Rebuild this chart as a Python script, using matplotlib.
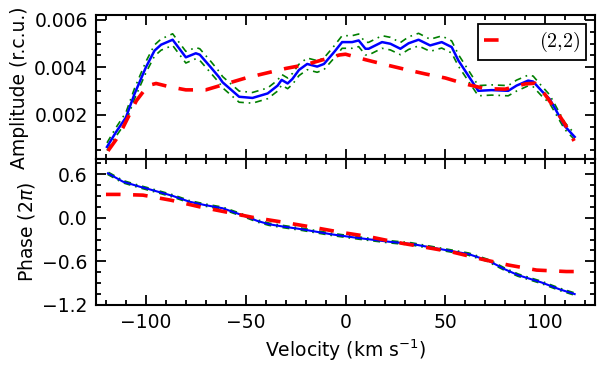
import numpy as np
import matplotlib
matplotlib.use('Agg')
from matplotlib import pyplot as plt
from matplotlib.ticker import MultipleLocator
from matplotlib.font_manager import FontProperties

# blue solid line, amplitude (velocity in km/s)
amp_vel = [-119.5, -115, -110, -105.7, -100, -95.7, -92.4, -86.6, -80, -75,
           -73, -67.5, -63.3, -61.6, -53.3, -46.6, -39, -34, -32, -29,
           -26.6, -23.3, -19.2, -14.2, -10.8, -5.8, -1.7, 3.3, 6.6, 10,
           11.6, 18.3, 22.5, 27.5, 31.6, 36.6, 42.4, 48.2, 53.2, 56.6,
           66.5, 73.2, 81.5, 85.7, 91.5, 94, 98.2, 102.3, 105.6, 109.8,
           114.8]
amp = [0.00065, 0.00127, 0.00189, 0.00288, 0.00400, 0.00470, 0.00495, 0.00516, 0.00442, 0.00459,
       0.00453, 0.00400, 0.00358, 0.00337, 0.00276, 0.00271, 0.00290, 0.00323, 0.00347, 0.00332,
       0.00351, 0.00389, 0.00414, 0.00403, 0.00414, 0.00463, 0.00506, 0.00506, 0.00513, 0.00478,
       0.00478, 0.00506, 0.00499, 0.00478, 0.00501, 0.00516, 0.00492, 0.00506, 0.00485, 0.00428,
       0.00301, 0.00304, 0.00301, 0.00323, 0.00344, 0.00340, 0.00301, 0.00266, 0.00217, 0.00153,
       0.00107]
# green dash-dot error envelope
amp_hi = [0.00082, 0.00146, 0.00210, 0.00311, 0.00424, 0.00494, 0.00519, 0.00541, 0.00467, 0.00483,
          0.00478, 0.00425, 0.00382, 0.00361, 0.00300, 0.00294, 0.00313, 0.00346, 0.00370, 0.00355,
          0.00374, 0.00413, 0.00439, 0.00428, 0.00439, 0.00489, 0.00533, 0.00533, 0.00540, 0.00505,
          0.00505, 0.00533, 0.00526, 0.00504, 0.00528, 0.00543, 0.00518, 0.00532, 0.00511, 0.00453,
          0.00323, 0.00326, 0.00323, 0.00346, 0.00367, 0.00363, 0.00322, 0.00284, 0.00233, 0.00168,
          0.00120]
amp_lo = [0.00050, 0.00109, 0.00170, 0.00267, 0.00377, 0.00447, 0.00472, 0.00492, 0.00418, 0.00436,
          0.00429, 0.00376, 0.00335, 0.00314, 0.00253, 0.00249, 0.00268, 0.00300, 0.00325, 0.00310,
          0.00328, 0.00365, 0.00390, 0.00379, 0.00390, 0.00438, 0.00480, 0.00480, 0.00487, 0.00452,
          0.00452, 0.00480, 0.00473, 0.00453, 0.00475, 0.00490, 0.00467, 0.00481, 0.00460, 0.00404,
          0.00280, 0.00283, 0.00280, 0.00300, 0.00322, 0.00318, 0.00280, 0.00248, 0.00200, 0.00139,
          0.00095]

# red dashed (2,2) model, amplitude
mod_vel = [-119, -115, -111.5, -104.8, -99, -94.9, -88.2, -80, -70, -60,
           -50, -40, -30, -20, -10, -3, 0, 10, 20, 30,
           40, 50, 60, 70, 80, 90, 95, 100, 105, 110,
           114.5]
mod_amp = [0.00048, 0.00095, 0.00146, 0.00259, 0.00323, 0.00332, 0.00318, 0.00305, 0.00305, 0.00330,
           0.00355, 0.00375, 0.00395, 0.00411, 0.00435, 0.00452, 0.00455, 0.00432, 0.00411, 0.00391,
           0.00372, 0.00355, 0.00330, 0.00310, 0.00308, 0.00330, 0.00333, 0.00285, 0.00225, 0.00160,
           0.00090]

# phase (units of 2 pi)
ph_vel = [-119, -111.5, -103.2, -98.2, -86.6, -78.2, -70.7, -61.6, -53.3, -48.3,
          -44.1, -38.3, -31.7, -21.7, -6.7, 6.6, 21.6, 33, 48.2, 61.6,
          71.5, 79.9, 86.5, 98.2, 107.3, 114.8]
phase = [0.61, 0.495, 0.427, 0.39, 0.30, 0.22, 0.175, 0.13, 0.05, 0.0,
         -0.045, -0.09, -0.12, -0.16, -0.23, -0.28, -0.33, -0.36, -0.435, -0.50,
         -0.59, -0.71, -0.79, -0.89, -0.985, -1.05]

mph_vel = [-120, -113, -101.5, -87.4, -73.2, -59.1, -46.6, -31.7, -16.7, -2.5,
           11.6, 25.8, 36.6, 53.2, 68.2, 81.5, 95.7, 110.6, 115]
mod_phase = [0.32, 0.32, 0.31, 0.24, 0.15, 0.074, 0.005, -0.06, -0.13, -0.20,
             -0.26, -0.34, -0.39, -0.47, -0.57, -0.65, -0.72, -0.74, -0.74]

plt.rcParams['font.size'] = 13.5
plt.rcParams['lines.scale_dashes'] = False
plt.rcParams['axes.linewidth'] = 1.5

fig = plt.figure(figsize=(6, 3.68), dpi=100)
ax1 = fig.add_axes([0.16, 0.5666, 0.8317, 0.3926])
ax2 = fig.add_axes([0.16, 0.1712, 0.8317, 0.3954], sharex=ax1)

green_dash = (5, 3.5, 1.2, 3.5)
red_dash = (10.5, 9)

ax1.plot(amp_vel, amp_hi, color='#007f00', lw=1.2, dashes=green_dash)
ax1.plot(amp_vel, amp_lo, color='#007f00', lw=1.2, dashes=green_dash)
ax1.plot(amp_vel, amp, color='#0000ff', lw=1.8)
ax1.plot(mod_vel, mod_amp, color='#ff0000', lw=2.6, dashes=red_dash, label=r'$\mathrm{(2{,}2)}$')

ax2.plot(ph_vel, phase, color='#008000', lw=2.8, dashes=green_dash)
ax2.plot(ph_vel, phase, color='#0000ff', lw=1.5)
ax2.plot(mph_vel, mod_phase, color='#ff0000', lw=2.6, dashes=red_dash)

ax1.set_xlim(-125, 125)
ax1.set_ylim(0.00012, 0.0062)
ax2.set_ylim(-1.2, 0.8)

ax1.set_yticks([0.002, 0.004, 0.006])
ax1.yaxis.set_minor_locator(MultipleLocator(0.0005))
ax2.set_yticks([-1.2, -0.6, 0.0, 0.6])
ax2.yaxis.set_minor_locator(MultipleLocator(0.15))
ax2.set_xticks([-100, -50, 0, 50, 100])
ax2.xaxis.set_minor_locator(MultipleLocator(10))

for ax in (ax1, ax2):
    ax.tick_params(which='both', direction='in', top=True, right=True, width=1.3)
    ax.tick_params(which='major', length=7, pad=6)
    ax.tick_params(which='minor', length=3.5)
ax1.tick_params(labelbottom=False)

ax1.set_ylabel('Amplitude (r.c.u.)')
ax2.set_ylabel(r'Phase ($2\pi$)')
ax2.set_xlabel(r'Velocity (km s$^{-1}$)')

leg = ax1.legend(loc='upper right', prop=FontProperties(size=14.5, math_fontfamily='cm'),
                 handlelength=1.2, handletextpad=1.5, borderpad=0.3, borderaxespad=0.45,
                 fancybox=False, framealpha=1)
leg.get_frame().set_edgecolor('black')
leg.get_frame().set_linewidth(1.3)

fig.savefig('out.png', dpi=100)
